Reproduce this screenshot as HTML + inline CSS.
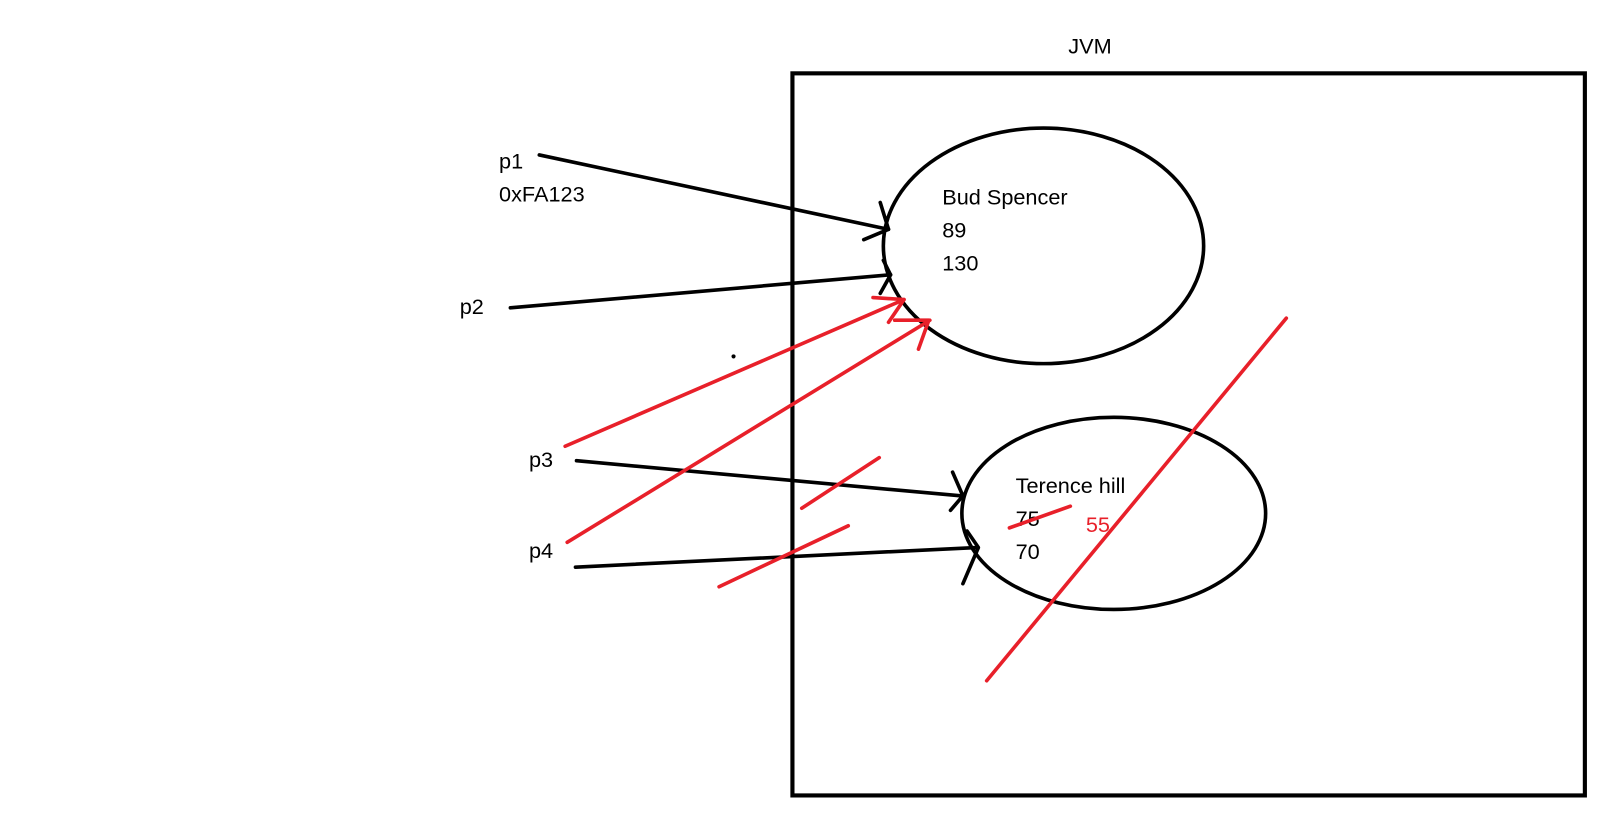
<!DOCTYPE html>
<html><head><style>html,body{margin:0;padding:0;background:#fff;}svg{display:block}</style></head>
<body>
<svg width="1620" height="813" viewBox="0 0 1568 787" preserveAspectRatio="none" xmlns="http://www.w3.org/2000/svg" font-family="Liberation Sans, sans-serif" font-size="21">
<rect x="767" y="71" width="767" height="699" fill="none" stroke="#000" stroke-width="4"/>
<text x="1034" y="52" fill="#000">JVM</text>
<ellipse cx="1010" cy="238" rx="155" ry="114" fill="none" stroke="#000" stroke-width="3.5"/>
<ellipse cx="1078" cy="497" rx="147" ry="93" fill="none" stroke="#000" stroke-width="3.5"/>
<g fill="#000">
<text x="912" y="198">Bud Spencer</text>
<text x="912" y="230">89</text>
<text x="912" y="262">130</text>
<text x="483" y="163">p1</text>
<text x="483" y="195">0xFA123</text>
<text x="445" y="304">p2</text>
<text x="512" y="452">p3</text>
<text x="512" y="540">p4</text>
<text x="983" y="477">Terence hill</text>
<text x="983" y="509">75</text>
<text x="983" y="541">70</text>
</g>
<text x="1051" y="515" fill="#e8202a">55</text>
<circle cx="710" cy="345" r="2" fill="#000"/>
<g stroke="#000" stroke-width="3.5" fill="none" stroke-linecap="round" stroke-linejoin="round">
<line x1="522" y1="150" x2="860" y2="222"/><polyline points="852,196 860,222 836,232"/>
<line x1="494" y1="298" x2="862" y2="266"/><polyline points="855,252 862,266 852,284"/>
<line x1="558" y1="446" x2="930" y2="480"/><polyline points="922,457 932,480 920,494"/>
<line x1="557" y1="549" x2="945" y2="530"/><polyline points="936,514 947,530 932,565"/>
</g>
<g stroke="#e8202a" stroke-width="3.5" fill="none" stroke-linecap="round" stroke-linejoin="round">
<line x1="547" y1="432" x2="875" y2="290"/><polyline points="845,288 875,290 860,312"/>
<line x1="549" y1="525" x2="900" y2="310"/><polyline points="866,310 899,310 889,338"/>
<line x1="776" y1="492" x2="851" y2="443"/>
<line x1="696" y1="568" x2="821" y2="509"/>
<line x1="955" y1="659" x2="1245" y2="308"/>
<line x1="977" y1="511" x2="1036" y2="490"/>
</g>
</svg>
</body></html>
